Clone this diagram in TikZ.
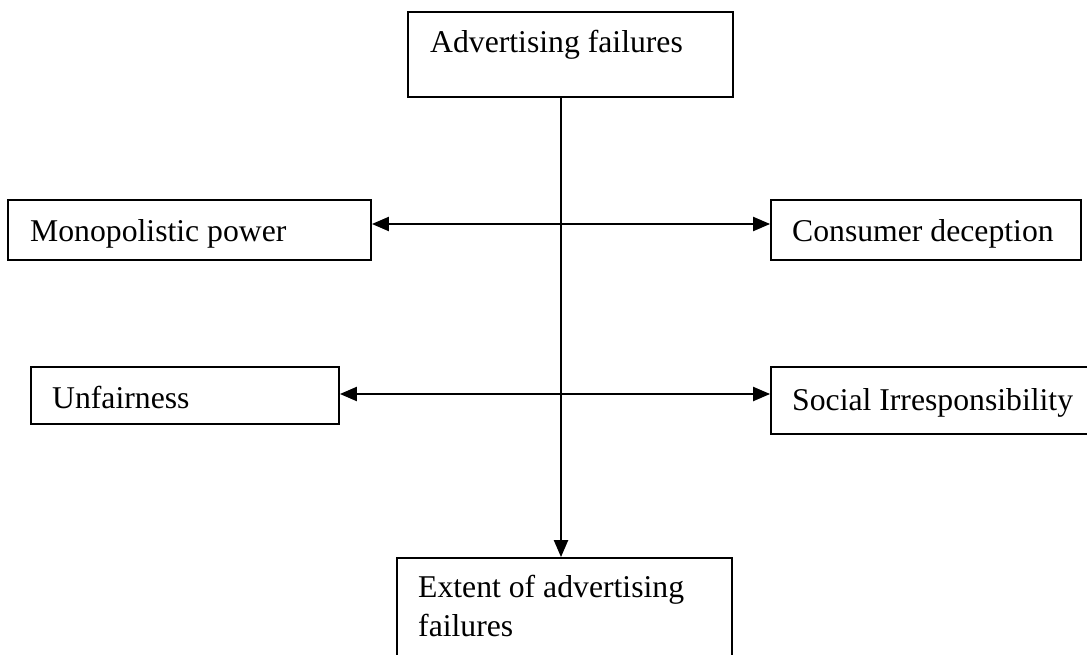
\documentclass[tikz,border=0pt]{standalone}
\usepackage{fontspec}
\setmainfont{Liberation Serif}
\usetikzlibrary{arrows.meta}
\begin{document}
\begin{tikzpicture}[x=1pt,y=-1pt,
  box/.style={draw=black, line width=1.8pt, rectangle, inner sep=0pt},
  lbl/.style={anchor=base west, inner sep=0pt, font=\fontsize{31.7}{39}\selectfont},
  tip/.style={Triangle[length=17pt,width=14pt]},
  link/.style={line width=2.2pt, -{Triangle[length=17pt,width=14pt]}},
  dlink/.style={line width=2.2pt, {Triangle[length=17pt,width=14pt]}-{Triangle[length=17pt,width=14pt]}}]
\useasboundingbox (0,0) rectangle (1087,655);
\clip (0,0) rectangle (1087,655);
\fill[white] (0,0) rectangle (1087,655);

% boxes
\node[box, minimum width=325pt, minimum height=85pt] (top) at (570.5,54.5) {};
\node[box, minimum width=363pt, minimum height=60pt] (mono) at (189.5,230) {};
\node[box, minimum width=310pt, minimum height=60pt] (cons) at (926,230) {};
\node[box, minimum width=308pt, minimum height=57pt] (unf) at (185,395.5) {};
\node[box, minimum width=340pt, minimum height=67pt] (soc) at (941,400.5) {};
\node[box, minimum width=335pt, minimum height=120pt] (ext) at (564.5,618) {};

% labels
\node[lbl] (ltop) at (430,53) {Advertising failures};
\node[lbl] (lmono) at (30,241) {Monopolistic power};
\node[lbl] (lcons) at (792,241) {Consumer deception};
\node[lbl] (lunf) at (52,408) {Unfairness};
\node[lbl] (lsoc) at (792,410) {Social Irresponsibility};
\node[lbl] (lext1) at (418,597) {Extent of advertising};
\node[lbl] (lext2) at (418,636) {failures};

% connectors
\draw[link] ([xshift=-9.5pt]top.south) -- ([xshift=-3.5pt]ext.north);
\draw[dlink] ([yshift=6pt]mono.east) -- ([yshift=6pt]cons.west);
\draw[dlink] ([yshift=1.5pt]unf.east) -- ([yshift=6.5pt]soc.west);
\end{tikzpicture}
\end{document}
